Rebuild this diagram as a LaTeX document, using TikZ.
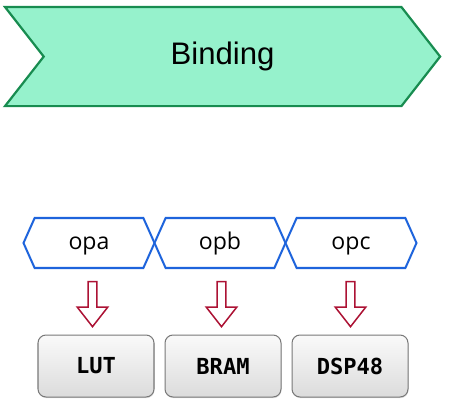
\documentclass[tikz,border=0pt]{standalone}
\usepackage{fontspec}
\setmainfont{Liberation Sans}
\newfontfamily\opfont{Open Sans}
\newfontfamily\resfont{DejaVu Sans Mono}
\usepackage{tikz}
\usetikzlibrary{arrows,shapes,shapes.symbols,shapes.arrows,positioning,shadows,calc}
\usepackage{xcolor}
\definecolor{bdgreen}{RGB}{24,140,80}
\definecolor{bdmint}{RGB}{150,242,204}
\definecolor{opblue}{RGB}{30,100,220}
\definecolor{arrred}{RGB}{172,18,52}
\definecolor{resgray}{RGB}{120,120,120}
\tikzstyle{phase} = [signal, signal from=west, signal to=east, signal pointer angle=104, minimum width=15.23cm, minimum height=3.47cm, draw=bdgreen, fill=bdmint, line width=2.2pt, font=\fontsize{31}{34}\selectfont]
\tikzstyle{operation} = [signal, signal to=west and east, signal pointer angle=132, minimum width=4.585cm, minimum height=1.75cm, inner sep=0pt, outer sep=0pt, text height=16pt, text depth=4pt, draw=opblue, fill=white, line width=2pt, font=\opfont\fontsize{23}{25}\selectfont]
\tikzstyle{bindarrow} = [single arrow, rotate=-90, minimum height=1.58cm, minimum width=1.05cm, single arrow head extend=0.38cm, single arrow tip angle=76, inner sep=0.13cm, draw=arrred, fill=white, line width=1.5pt]
\tikzstyle{resource} = [rectangle, rounded corners=0.28cm, minimum width=4.06cm, minimum height=2.17cm, draw=resgray, top color=gray!4, bottom color=gray!28, line width=1pt, drop shadow={shadow xshift=0.5pt, shadow yshift=-1.2pt, opacity=0.25}, font=\resfont\bfseries\fontsize{22}{24}\selectfont]

\begin{document}
\begin{tikzpicture}
    \useasboundingbox (0,0) rectangle (15.75,-14.63);
    % Phase
    \node[phase] (binding) at (7.79,-1.98) {Binding};

    % Operations
    \node[operation] (opa) at (3.115,-8.505) {opa};
    \node[operation, right=0pt of opa] (opb) {opb};
    \node[operation, right=0pt of opb] (opc) {opc};

    % Resources
    \node[resource] (lut) at (3.36,-12.81) {LUT};
    \node[resource, right=0.35cm of lut] (bram) {BRAM};
    \node[resource, right=0.35cm of bram] (dsp) {DSP48};

    % Arrows
    \node[bindarrow] (arra) at ($(opa.south)!0.5!(lut.north)$) {};
    \node[bindarrow] (arrb) at ($(opb.south)!0.5!(bram.north)$) {};
    \node[bindarrow] (arrc) at ($(opc.south)!0.5!(dsp.north)$) {};
\end{tikzpicture}
\end{document}
